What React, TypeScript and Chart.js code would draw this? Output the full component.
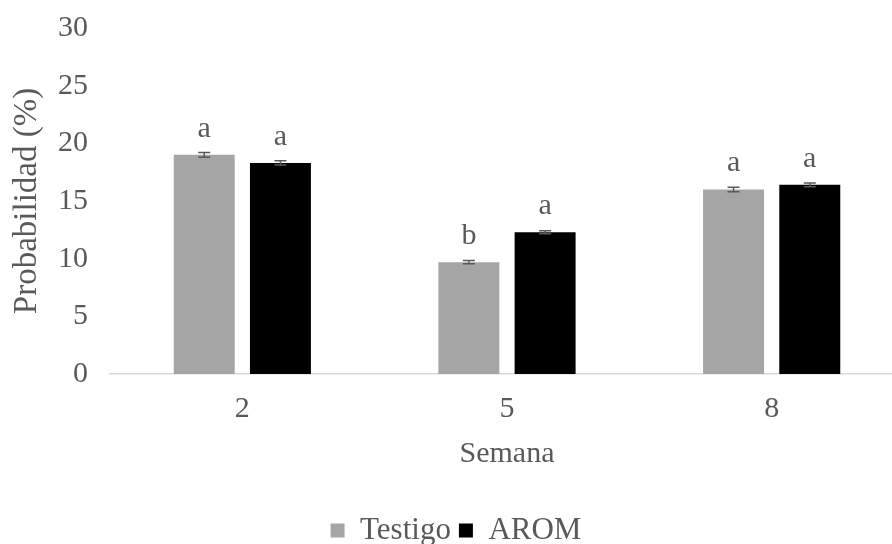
import React, { useEffect, useRef } from "react";
import { Chart, registerables } from "chart.js";

Chart.register(...registerables);

const categories = ["2", "5", "8"];
const testigoValues = [19.0, 9.7, 16.0];
const aromValues = [18.3, 12.3, 16.4];
const testigoErrors = [0.2, 0.15, 0.2];
const aromErrors = [0.18, 0.13, 0.17];
const testigoLetters = ["a", "b", "a"];
const aromLetters = ["a", "a", "a"];
const yTicks = [0, 5, 10, 15, 20, 25, 30];

const FONT = "'Liberation Serif', 'Times New Roman', serif";
const TEXT = "#595959";
const FS = 30;

const errorAndLetters = {
  id: "errorAndLetters",
  afterDatasetsDraw(chart: any) {
    const ctx = chart.ctx;
    const y = chart.scales.y;
    const errs = [testigoErrors, aromErrors];
    const letters = [testigoLetters, aromLetters];
    chart.data.datasets.forEach((ds: any, di: number) => {
      const meta = chart.getDatasetMeta(di);
      meta.data.forEach((bar: any, i: number) => {
        const v = ds.data[i];
        const e = errs[di][i];
        const x = bar.x;
        const yTop = y.getPixelForValue(v + e);
        const yBot = y.getPixelForValue(v - e);
        ctx.save();
        ctx.strokeStyle = "#595959";
        ctx.lineWidth = 1.5;
        ctx.beginPath();
        ctx.moveTo(x, yTop);
        ctx.lineTo(x, yBot);
        ctx.moveTo(x - 6, yTop);
        ctx.lineTo(x + 6, yTop);
        ctx.moveTo(x - 6, yBot);
        ctx.lineTo(x + 6, yBot);
        ctx.stroke();
        ctx.fillStyle = TEXT;
        ctx.font = `${FS}px ${FONT}`;
        ctx.textAlign = "center";
        ctx.textBaseline = "alphabetic";
        ctx.fillText(letters[di][i], x, y.getPixelForValue(v) - 18);
        ctx.restore();
      });
    });
  },
};

export default function App() {
  const ref = useRef<HTMLCanvasElement>(null);
  useEffect(() => {
    if (!ref.current) return;
    const chart = new Chart(ref.current, {
      type: "bar",
      data: {
        labels: categories,
        datasets: [
          {
            label: "Testigo",
            data: testigoValues,
            backgroundColor: "#A5A5A5",
            barPercentage: 0.8,
            categoryPercentage: 0.576,
          },
          {
            label: "AROM",
            data: aromValues,
            backgroundColor: "#000000",
            barPercentage: 0.8,
            categoryPercentage: 0.576,
          },
        ],
      },
      options: {
        animation: false,
        responsive: false,
        maintainAspectRatio: false,
        layout: { padding: { top: 28, left: 8, right: 0, bottom: 4 } },
        plugins: {
          tooltip: { enabled: false },
          legend: {
            position: "bottom",
            labels: {
              color: TEXT,
              font: { family: FONT, size: 31 },
              boxWidth: 14,
              boxHeight: 14,
              padding: 8,
            },
          },
        },
        scales: {
          x: {
            grid: { display: false, drawTicks: false },
            border: { display: true, color: "#D9D9D9", width: 1.5 },
            ticks: {
              color: TEXT,
              font: { family: FONT, size: FS },
              padding: 17,
            },
            title: {
              display: true,
              text: "Semana",
              color: TEXT,
              font: { family: FONT, size: FS },
              padding: { top: -8, bottom: 35 },
            },
          },
          y: {
            min: 0,
            max: 30,
            afterBuildTicks: (scale: any) => {
              scale.ticks = yTicks.map((v) => ({ value: v }));
            },
            afterFit: (scale: any) => {
              scale.width = 102;
              scale.paddingTop = 0;
              scale.paddingBottom = 0;
            },
            grid: { display: false, drawTicks: false },
            border: { display: false },
            ticks: {
              color: TEXT,
              font: { family: FONT, size: FS },
              padding: 22,
            },
            title: {
              display: true,
              text: "Probabilidad (%)",
              color: TEXT,
              font: { family: FONT, size: 33 },
              padding: { top: 0, bottom: 4 },
            },
          },
        },
      },
      plugins: [errorAndLetters],
    });
    return () => chart.destroy();
  }, []);
  return (
    <div
      style={{
        position: "fixed",
        left: 0,
        top: 0,
        width: 892,
        height: 544,
        overflow: "hidden",
        background: "#fff",
      }}
    >
      <canvas ref={ref} width={904} height={560} style={{ display: "block" }} />
    </div>
  );
}
